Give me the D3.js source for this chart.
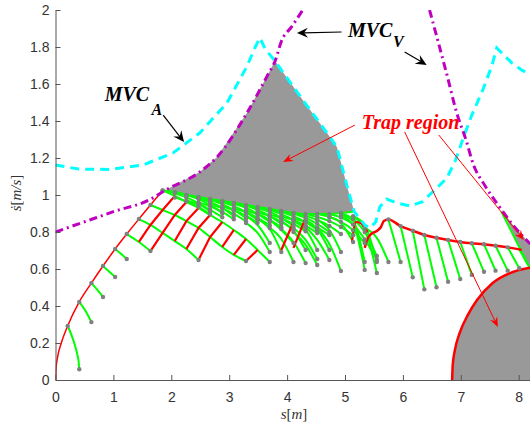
<!DOCTYPE html>
<html>
<head>
<meta charset="utf-8">
<script src="https://cdn.jsdelivr.net/npm/d3@7"></script>
<style>
  body { margin: 0; background: #fff; }
  .axis text { font-family: "Liberation Sans", Arial, sans-serif; font-size: 14px; fill: #333; }
  .axis path, .axis line { stroke: #555; }
</style>
</head>
<body>
<svg id="chart" width="530" height="426"></svg>
<script>
// ---- data (s in m, sdot in m/s) ----
const xTicks = [0, 1, 2, 3, 4, 5, 6, 7, 8];
const yTicks = [0, 0.2, 0.4, 0.6, 0.8, 1, 1.2, 1.4, 1.6, 1.8, 2];

// grid stations along the path
const stations = [0, 0.21, 0.41, 0.62, 0.82, 1.03, 1.23, 1.44, 1.64, 1.85, 2.06, 2.26, 2.47, 2.67,
  2.88, 3.08, 3.29, 3.49, 3.70, 3.90, 4.11, 4.32, 4.52, 4.73, 4.93, 5.14, 5.34, 5.55, 5.75, 5.96,
  6.17, 6.37, 6.58, 6.78, 6.99, 7.19, 7.40, 7.60, 7.81, 8.01, 8.22];

// velocity limit curves
const mvcA = [[0, 0.80], [0.59, 0.865], [1.0, 0.91], [1.63, 0.975], [1.92, 1.03], [2.49, 1.124],
  [2.79, 1.205], [3.30, 1.44], [3.65, 1.64], [3.80, 1.73], [3.90, 1.83], [4.08, 1.91], [4.27, 2.0]];
const mvcV = [[6.46, 2.0], [6.60, 1.838], [6.76, 1.65], [6.93, 1.443], [7.09, 1.297], [7.22, 1.162],
  [7.41, 1.054], [7.67, 0.935], [7.90, 0.838], [8.2, 0.735]];
const mvcCyan = [[0, 1.162], [0.4, 1.14], [0.94, 1.138], [1.51, 1.162], [2.03, 1.227], [2.49, 1.335],
  [2.96, 1.497], [3.30, 1.692], [3.45, 1.80], [3.53, 1.85], [3.62, 1.79], [3.80, 1.72], [4.27, 1.514],
  [4.69, 1.335], [4.86, 1.259], [4.95, 1.151], [5.05, 1.03], [5.16, 0.91], [5.34, 0.838], [5.43, 0.822],
  [5.53, 0.854], [5.60, 0.935], [5.72, 0.978], [5.89, 0.957], [6.12, 0.941], [6.33, 0.962], [6.55, 1.027],
  [6.76, 1.092], [6.91, 1.189], [7.03, 1.297], [7.19, 1.432], [7.38, 1.568], [7.54, 1.703], [7.62, 1.795],
  [7.88, 1.714], [8.05, 1.676], [8.2, 1.649]];

// lower edge of the big trap region (station index, values)
const bandTop = [9, [1.025, 1.016, 1.000, 0.989, 0.978, 0.968, 0.957, 0.946, 0.935, 0.924, 0.914,
  0.903, 0.897, 0.897, 0.897, 0.903, 0.91]];
const trapRight = [[7.70, 0.925], [7.90, 0.838], [8.2, 0.735], [8.2, 0.60], [8.15, 0.63]];
const trapCorner = [[6.85, 0], [6.86, 0.08], [6.90, 0.165], [6.98, 0.254], [7.12, 0.351], [7.28, 0.432],
  [7.55, 0.524], [7.90, 0.584], [8.2, 0.607]];

// accelerating trajectory from the start
const redMain = [[0, 0], [0.01, 0.065], [0.04, 0.13], [0.1, 0.2], [0.21, 0.292], [0.41, 0.422],
  [0.62, 0.524], [0.82, 0.616], [1.03, 0.708], [1.23, 0.789], [1.44, 0.870], [1.64, 0.946], [1.85, 1.025]];
const redRight = [[5.34, 0.714], [5.38, 0.757], [5.45, 0.789], [5.55, 0.805], [5.62, 0.827], [5.67, 0.859],
  [5.75, 0.868], [5.96, 0.832], [6.17, 0.807], [6.37, 0.784], [6.58, 0.769], [6.78, 0.757], [6.99, 0.746],
  [7.19, 0.739], [7.40, 0.734], [7.60, 0.726], [7.81, 0.717], [8.01, 0.706], [8.05, 0.703]];
const redWave = [[5.12, 0.746], [5.19, 0.854], [5.27, 0.849], [5.34, 0.822], [5.39, 0.800]];
const redLattice = [
  [7, [0.746, 0.838, 0.919, 0.995]], [8, [0.697, 0.795, 0.892, 0.962]], [10, [0.751, 0.859, 0.930]],
  [11, [0.708, 0.822, 0.892]], [12, [0.649, 0.773, 0.854]], [14, [0.719, 0.811]], [15, [0.676, 0.762]],
  [16, [0.643, 0.703]], [19, [0.703, 0.854]], [20, [0.714, 0.876]]];

// decelerating trajectories
const greenLow = [
  [[0.21, 0.292], [0.28, 0.24], [0.35, 0.172], [0.38, 0.133], [0.40, 0.098], [0.41, 0.058]],
  [[0.41, 0.422], [0.52, 0.373], [0.62, 0.313]],
  [[0.62, 0.524], [0.72, 0.489], [0.82, 0.449]],
  [[0.82, 0.616], [0.92, 0.588], [1.03, 0.557]],
  [[1.03, 0.708], [1.13, 0.682], [1.23, 0.654]]];
const greenRows = [
  [6, [0.789, 0.746, 0.697]],
  [7, [0.870, 0.838, 0.795, 0.751, 0.708, 0.649]],
  [8, [0.946, 0.919, 0.892, 0.859, 0.822, 0.773, 0.719, 0.676, 0.643]],
  [9, [1.025, 0.995, 0.962, 0.930, 0.892, 0.854, 0.811, 0.762, 0.703, 0.638]]];
const greenBand = [
  [9, [1.025, 1.009, 0.987, 0.955, 0.911]], [10, [1.016, 1.000, 0.978, 0.946, 0.902]],
  [11, [1.000, 0.984, 0.962, 0.930, 0.886]], [12, [0.989, 0.973, 0.951, 0.919, 0.875]],
  [13, [0.978, 0.962, 0.940, 0.908, 0.864]], [14, [0.968, 0.952, 0.930, 0.898, 0.854]],
  [15, [0.957, 0.941, 0.919, 0.887, 0.843]], [16, [0.946, 0.930, 0.908, 0.876, 0.832]],
  [17, [0.935, 0.919, 0.897, 0.865, 0.821]], [18, [0.924, 0.908, 0.886, 0.854, 0.810]],
  [19, [0.914, 0.898, 0.876, 0.844, 0.800]], [20, [0.903, 0.887, 0.865, 0.833, 0.789]],
  [21, [0.897, 0.881, 0.859, 0.827, 0.783]], [22, [0.897, 0.881, 0.855, 0.810, 0.740]],
  [23, [0.897, 0.878, 0.840, 0.760, 0.650]], [24, [0.903, 0.870, 0.800, 0.670]],
  [10, [0.986, 0.966, 0.936, 0.896]], [11, [0.970, 0.950, 0.920, 0.880]],
  [12, [0.959, 0.939, 0.909, 0.869]], [13, [0.948, 0.928, 0.898, 0.858]],
  [14, [0.938, 0.918, 0.888, 0.848]], [15, [0.927, 0.907, 0.877, 0.837]],
  [16, [0.916, 0.896, 0.866, 0.826]], [17, [0.905, 0.885, 0.855, 0.815]],
  [18, [0.894, 0.874, 0.844, 0.804]], [19, [0.884, 0.864, 0.834, 0.794]],
  [20, [0.873, 0.853, 0.823, 0.783]]];
const greenFan = [
  [16, [0.886, 0.838, 0.741]], [16, [0.849, 0.795, 0.692]], [17, [0.870, 0.816, 0.692]],
  [18, [0.865, 0.811, 0.741]], [18, [0.822, 0.762, 0.638]], [19, [0.859, 0.805, 0.703]],
  [19, [0.816, 0.746, 0.632]], [20, [0.859, 0.811, 0.703]], [20, [0.822, 0.757, 0.654]],
  [20, [0.800, 0.730, 0.622]], [21, [0.865, 0.816, 0.703]], [21, [0.827, 0.757, 0.649]],
  [22, [0.865, 0.811, 0.692]], [22, [0.822, 0.735, 0.589]], [23, [0.881, 0.849, 0.746]],
  [24, [0.892, 0.860, 0.638]], [24, [0.886, 0.840, 0.595]], [25, [0.886, 0.838, 0.638]],
  [25, [0.881, 0.816, 0.578]], [26, [0.822, 0.768, 0.638]]];
const greenRight = [
  [28, [0.868, 0.638]], [29, [0.832, 0.555]], [30, [0.807, 0.490]], [31, [0.784, 0.501]],
  [32, [0.769, 0.531]], [33, [0.757, 0.546]], [34, [0.746, 0.568]], [35, [0.739, 0.585]],
  [36, [0.734, 0.591]], [37, [0.726, 0.591]], [38, [0.717, 0.604]]];
const greenEdge = [[[7.70, 0.91], [8.15, 0.63]], [[8.01, 0.706], [8.18, 0.611]]];

// annotations
const labelsMVC = [
  { text: 'MVC', sub: 'A', at: [0.85, 1.508], subAt: [1.66, 1.432] },
  { text: 'MVC', sub: 'V', at: [5.05, 1.854], subAt: [5.83, 1.80] }];
const trapLabel = { text: 'Trap region', at: [5.29, 1.357] };
const arrowsBlack = [[[1.86, 1.432], [2.22, 1.286]], [[4.94, 1.881], [4.17, 1.876]], [[6.03, 1.773], [6.41, 1.703]]];
const arrowsRed = [[[5.17, 1.378], [3.93, 1.178]], [[6.03, 1.341], [7.64, 0.286]], [[6.62, 1.324], [8.09, 0.757]]];

// ---- drawing ----
const svg = d3.select('#chart');
const x = d3.scaleLinear().domain([0, 8.2]).range([55.5, 530.3]);
const y = d3.scaleLinear().domain([0, 2]).range([380, 10]);

const fromStation = ([k, v]) => v.map((val, i) => [stations[k + i], val]);
const straight = d3.line().x(d => x(d[0])).y(d => y(d[1]));
const smooth = d3.line().x(d => x(d[0])).y(d => y(d[1])).curve(d3.curveMonotoneX);

svg.append('clipPath').attr('id', 'plot')
  .append('rect').attr('x', x(0)).attr('y', y(2)).attr('width', x(8.2) - x(0)).attr('height', y(0) - y(2));
const g = svg.append('g').attr('clip-path', 'url(#plot)');

// gray regions
const band = fromStation(bandTop);
const trapMain = [band[0]]
  .concat(mvcA.filter(d => d[0] > 1.85 && d[0] <= 3.8))
  .concat(mvcCyan.filter(d => d[0] >= 3.8 && d[0] <= 5.16))
  .concat(band.slice().reverse());
g.append('path').attr('d', straight(trapMain) + 'Z').attr('fill', '#999');
g.append('path').attr('d', straight(trapRight) + 'Z').attr('fill', '#999');
g.append('path').attr('d', smooth(trapCorner) + `L${x(8.2)},${y(0)}Z`).attr('fill', '#999');

// green trajectories
const greens = greenLow
  .concat(greenRows.map(fromStation))
  .concat(greenBand.map(fromStation))
  .concat(greenFan.map(fromStation))
  .concat(greenRight.map(fromStation))
  .concat(greenEdge)
  .concat([band]);
g.selectAll('.green').data(greens).enter().append('path')
  .attr('d', smooth).attr('fill', 'none').attr('stroke', '#00ff00').attr('stroke-width', 2);

// red trajectories
g.append('path').attr('d', smooth(redMain)).attr('fill', 'none').attr('stroke', '#ff0000').attr('stroke-width', 1.5);
g.selectAll('.redl').data(redLattice.map(fromStation)).enter().append('path')
  .attr('d', straight).attr('fill', 'none').attr('stroke', '#ff0000').attr('stroke-width', 2.2);
g.append('path').attr('d', smooth(redWave)).attr('fill', 'none').attr('stroke', '#ff0000').attr('stroke-width', 2.2);
g.append('path').attr('d', smooth(redRight)).attr('fill', 'none').attr('stroke', '#ff0000').attr('stroke-width', 2.5);
g.append('path').attr('d', smooth(trapCorner)).attr('fill', 'none').attr('stroke', '#ff0000').attr('stroke-width', 2.5);

// node dots: ends of each green, every node of the band curves
let dots = [];
greenLow.concat(greenRows.map(fromStation), greenFan.map(fromStation), greenRight.map(fromStation))
  .forEach(c => { dots.push(c[0], c[c.length - 1]); });
greenBand.map(fromStation).forEach(c => { dots = dots.concat(c); });
g.selectAll('.dot').data(dots).enter().append('circle')
  .attr('cx', d => x(d[0])).attr('cy', d => y(d[1])).attr('r', 2.2).attr('fill', '#808080');

// limit curves
g.append('path').attr('d', straight(mvcCyan)).attr('fill', 'none').attr('stroke', '#00ffff')
  .attr('stroke-width', 3).attr('stroke-dasharray', '9,6');
[mvcA, mvcV].forEach(c => {
  g.append('path').attr('d', smooth(c)).attr('fill', 'none').attr('stroke', '#bf00bf')
    .attr('stroke-width', 3).attr('stroke-dasharray', '8,4,2,4');
});

// axes
svg.append('g').attr('class', 'axis').attr('transform', `translate(0,${y(0)})`)
  .call(d3.axisBottom(x).tickValues(xTicks).tickFormat(d3.format('~g'))
    .tickSizeInner(-5).tickSizeOuter(0).tickPadding(12));
svg.append('g').attr('class', 'axis').attr('transform', `translate(${x(0)},0)`)
  .call(d3.axisLeft(y).tickValues(yTicks).tickFormat(d3.format('~g'))
    .tickSizeInner(-5).tickSizeOuter(0).tickPadding(6));

const xl = svg.append('text').attr('x', 294).attr('y', 419).attr('text-anchor', 'middle')
  .attr('font-family', '"Liberation Serif", serif').attr('font-size', 15).attr('fill', '#333');
xl.append('tspan').attr('font-style', 'italic').text('s');
xl.append('tspan').text('[');
xl.append('tspan').attr('font-style', 'italic').text('m');
xl.append('tspan').text(']');
const yl = svg.append('text').attr('transform', 'translate(21,193) rotate(-90)').attr('text-anchor', 'middle')
  .attr('font-family', '"Liberation Serif", serif').attr('font-size', 15).attr('fill', '#333');
yl.append('tspan').attr('font-style', 'italic').text('ṡ');
yl.append('tspan').text('[');
yl.append('tspan').attr('font-style', 'italic').text('m/s');
yl.append('tspan').text(']');

// annotations
function arrow(a, b, color, w, len, half) {
  const x1 = x(a[0]), y1 = y(a[1]), x2 = x(b[0]), y2 = y(b[1]);
  const ang = Math.atan2(y2 - y1, x2 - x1), c = Math.cos(ang), s = Math.sin(ang);
  svg.append('line').attr('x1', x1).attr('y1', y1)
    .attr('x2', x2 - c * len * 0.6).attr('y2', y2 - s * len * 0.6)
    .attr('stroke', color).attr('stroke-width', w);
  const pts = [[x2, y2],
    [x2 - c * len - s * half, y2 - s * len + c * half],
    [x2 - c * len * 0.65, y2 - s * len * 0.65],
    [x2 - c * len + s * half, y2 - s * len - c * half]];
  svg.append('polygon').attr('points', pts.map(p => p.join(',')).join(' ')).attr('fill', color);
}
arrowsBlack.forEach(d => arrow(d[0], d[1], '#000', 1.2, 11, 5));
arrowsRed.forEach(d => arrow(d[0], d[1], '#ff0000', 1, 10, 4));

labelsMVC.forEach(d => {
  svg.append('text').attr('x', x(d.at[0])).attr('y', y(d.at[1]))
    .attr('font-family', '"Liberation Serif", serif').attr('font-weight', 'bold').attr('font-style', 'italic')
    .attr('font-size', 20).attr('fill', '#000').text(d.text);
  svg.append('text').attr('x', x(d.subAt[0])).attr('y', y(d.subAt[1]))
    .attr('font-family', '"Liberation Serif", serif').attr('font-weight', 'bold').attr('font-style', 'italic')
    .attr('font-size', 16).attr('fill', '#000').text(d.sub);
});
svg.append('text').attr('x', x(trapLabel.at[0])).attr('y', y(trapLabel.at[1]))
  .attr('font-family', '"Liberation Serif", serif').attr('font-weight', 'bold').attr('font-style', 'italic')
  .attr('font-size', 20).attr('fill', '#ff0000').text(trapLabel.text);
</script>
</body>
</html>
